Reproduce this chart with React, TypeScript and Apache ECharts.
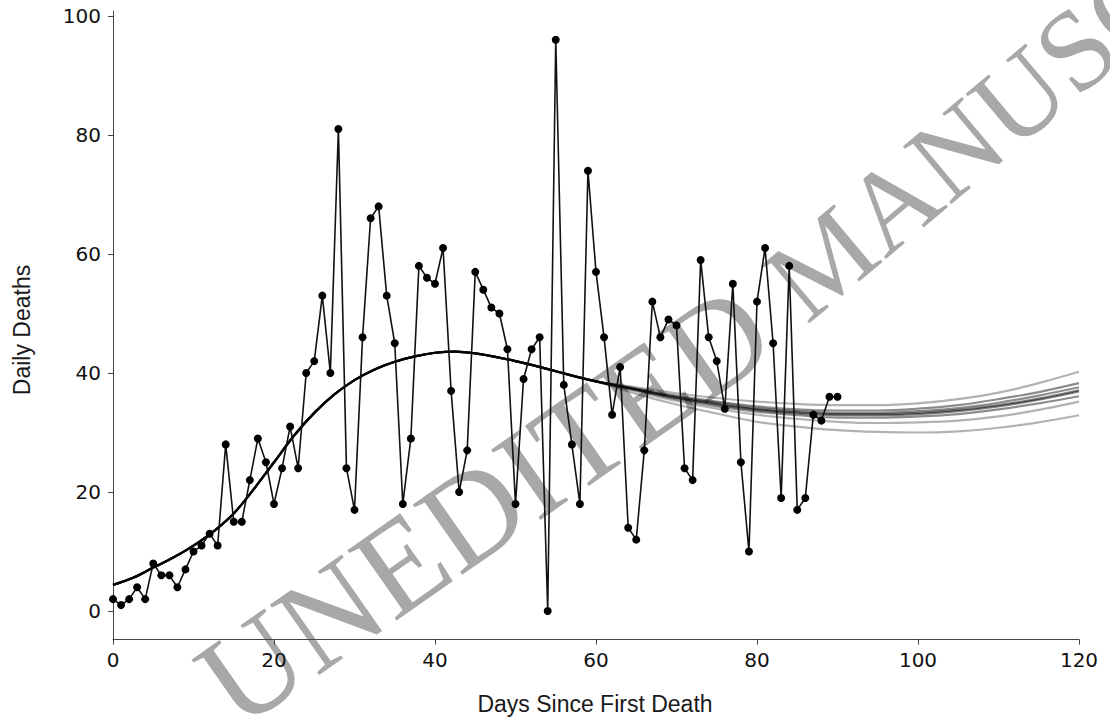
import React, { useEffect, useRef } from "react";
import * as echarts from "echarts";

// Observed daily deaths, day 0 .. 90
const dailyDeaths = [
  2, 1, 2, 4, 2, 8, 6, 6, 4, 7,
  10, 11, 13, 11, 28, 15, 15, 22, 29, 25,
  18, 24, 31, 24, 40, 42, 53, 40, 81, 24,
  17, 46, 66, 68, 53, 45, 18, 29, 58, 56,
  55, 61, 37, 20, 27, 57, 54, 51, 50, 44,
  18, 39, 44, 46, 0, 96, 38, 28, 18, 74,
  57, 46, 33, 41, 14, 12, 27, 52, 46, 49,
  48, 24, 22, 59, 46, 42, 34, 55, 25, 10,
  52, 61, 45, 19, 58, 17, 19, 33, 32, 36,
  36,
];

// Fitted ensemble curves
// Shared part (days 0-60), where all curves coincide
const fitSharedDays = [0, 2.5, 5, 7.5, 10, 12.5, 15, 17.5, 20, 22.5, 25, 27.5, 30, 32.5, 35, 37.5, 40, 42.5, 45, 47.5, 50, 52.5, 55, 57.5, 60];
const fitShared = [4.4, 5.6, 7.3, 9.0, 11.0, 13.4, 16.4, 20.5, 25.0, 29.5, 33.3, 36.4, 38.8, 40.6, 41.9, 42.8, 43.4, 43.6, 43.3, 42.7, 42.0, 41.2, 40.3, 39.4, 38.6];
// Divergent tails (days 65-120)
const fitTailDays = [65, 70, 75, 80, 85, 90, 95, 100, 105, 110, 115, 120];
const fitTailA = [37.6, 36.6, 35.8, 35.2, 34.8, 34.6, 34.6, 34.9, 35.6, 36.7, 38.3, 40.2];
const fitTailB = [37.4, 36.2, 35.2, 34.4, 33.9, 33.7, 33.7, 34.0, 34.6, 35.6, 36.8, 38.3];
const fitTailC = [37.3, 36.0, 35.0, 34.1, 33.6, 33.3, 33.3, 33.6, 34.1, 35.0, 36.2, 37.6];
const fitTailD = [37.2, 35.9, 34.8, 33.9, 33.4, 33.1, 33.1, 33.3, 33.8, 34.6, 35.7, 37.1];
const fitTailE = [37.2, 35.8, 34.7, 33.8, 33.2, 32.9, 32.9, 33.1, 33.6, 34.4, 35.5, 36.9];
const fitTailF = [37.1, 35.6, 34.4, 33.5, 32.9, 32.5, 32.5, 32.7, 33.1, 33.9, 34.9, 36.1];
const fitTailG = [36.9, 35.3, 34.0, 33.0, 32.3, 31.8, 31.6, 31.7, 32.0, 32.7, 33.8, 35.2];
const fitTailH = [36.5, 34.7, 33.2, 31.8, 31.0, 30.4, 30.1, 30.0, 30.2, 30.8, 31.7, 32.9];
const fitTails = [fitTailA, fitTailB, fitTailC, fitTailD, fitTailE, fitTailF, fitTailG, fitTailH];
const fitTailAlpha = [0.3, 0.45, 0.45, 0.5, 0.5, 0.45, 0.3, 0.3];

const xTicks = [0, 20, 40, 60, 80, 100, 120];
const yTicks = [0, 20, 40, 60, 80, 100];

const xLabel = "Days Since First Death";
const yLabel = "Daily Deaths";
const watermarkWords = ["UNEDITED", "MANUSCRIPT"];

export default function App() {
  const ref = useRef<HTMLDivElement>(null);

  useEffect(() => {
    document.body.style.margin = "0";
    const chart = echarts.init(ref.current!, undefined, { renderer: "svg" });

    const fitSeries = fitTails.map((tail, k) => ({
      type: "line",
      name: "fit" + k,
      data: [
        ...fitSharedDays.map((d, i) => [d, fitShared[i]]),
        ...fitTailDays.map((d, i) => [d, tail[i]]),
      ],
      smooth: 0.35,
      showSymbol: false,
      symbol: "none",
      lineStyle: { color: `rgba(0,0,0,${fitTailAlpha[k]})`, width: 2.2 },
      z: 3,
      silent: true,
    }));

    chart.setOption({
      animation: false,
      grid: { left: 113, right: 31, top: 11.2, bottom: 83.4, containLabel: false },
      xAxis: {
        type: "value",
        min: xTicks[0],
        max: xTicks[xTicks.length - 1],
        interval: 20,
        axisLine: { show: true, onZero: false, lineStyle: { color: "#444", width: 1 } },
        axisTick: { show: true, length: 5, lineStyle: { color: "#444" } },
        axisLabel: { color: "#111", fontSize: 20, fontFamily: "DejaVu Sans", margin: 10 },
        splitLine: { show: false },
      },
      yAxis: {
        type: "value",
        min: -4.8,
        max: 100.8,
        axisLine: { show: true, onZero: false, lineStyle: { color: "#444", width: 1 } },
        axisTick: { show: true, length: 5, customValues: yTicks, lineStyle: { color: "#444" } },
        axisLabel: { color: "#111", fontSize: 20, fontFamily: "DejaVu Sans", margin: 12, customValues: yTicks },
        splitLine: { show: false },
      },
      graphic: [
        {
          type: "text",
          x: 213,
          y: 695,
          rotation: (35 * Math.PI) / 180,
          z: -10,
          silent: true,
          style: {
            text: watermarkWords[0],
            font: '131px "Liberation Serif"',
            fill: "#a8a8a8",
            align: "left",
            verticalAlign: "middle",
          },
        },
        {
          type: "text",
          x: 782,
          y: 296,
          rotation: (40 * Math.PI) / 180,
          z: -10,
          silent: true,
          style: {
            text: watermarkWords[1],
            font: '115px "Liberation Serif"',
            fill: "#a8a8a8",
            align: "left",
            verticalAlign: "middle",
          },
        },
        {
          type: "text",
          x: 595,
          y: 704,
          z: 10,
          style: {
            text: xLabel,
            font: '23px "Liberation Sans"',
            fill: "#1a1a1a",
            align: "center",
            verticalAlign: "middle",
          },
        },
        {
          type: "text",
          x: 22,
          y: 330,
          rotation: Math.PI / 2,
          z: 10,
          style: {
            text: yLabel,
            font: '23px "Liberation Sans"',
            fill: "#1a1a1a",
            align: "center",
            verticalAlign: "middle",
          },
        },
      ],
      series: [
        ...fitSeries,
        {
          type: "line",
          name: "observed",
          data: dailyDeaths.map((v, i) => [i, v]),
          symbol: "circle",
          symbolSize: 8,
          showAllSymbol: true,
          itemStyle: { color: "#000" },
          lineStyle: { color: "#111", width: 1.6 },
          z: 5,
        },
      ],
    });

    return () => chart.dispose();
  }, []);

  return <div ref={ref} style={{ width: 1110, height: 723 }} />;
}
